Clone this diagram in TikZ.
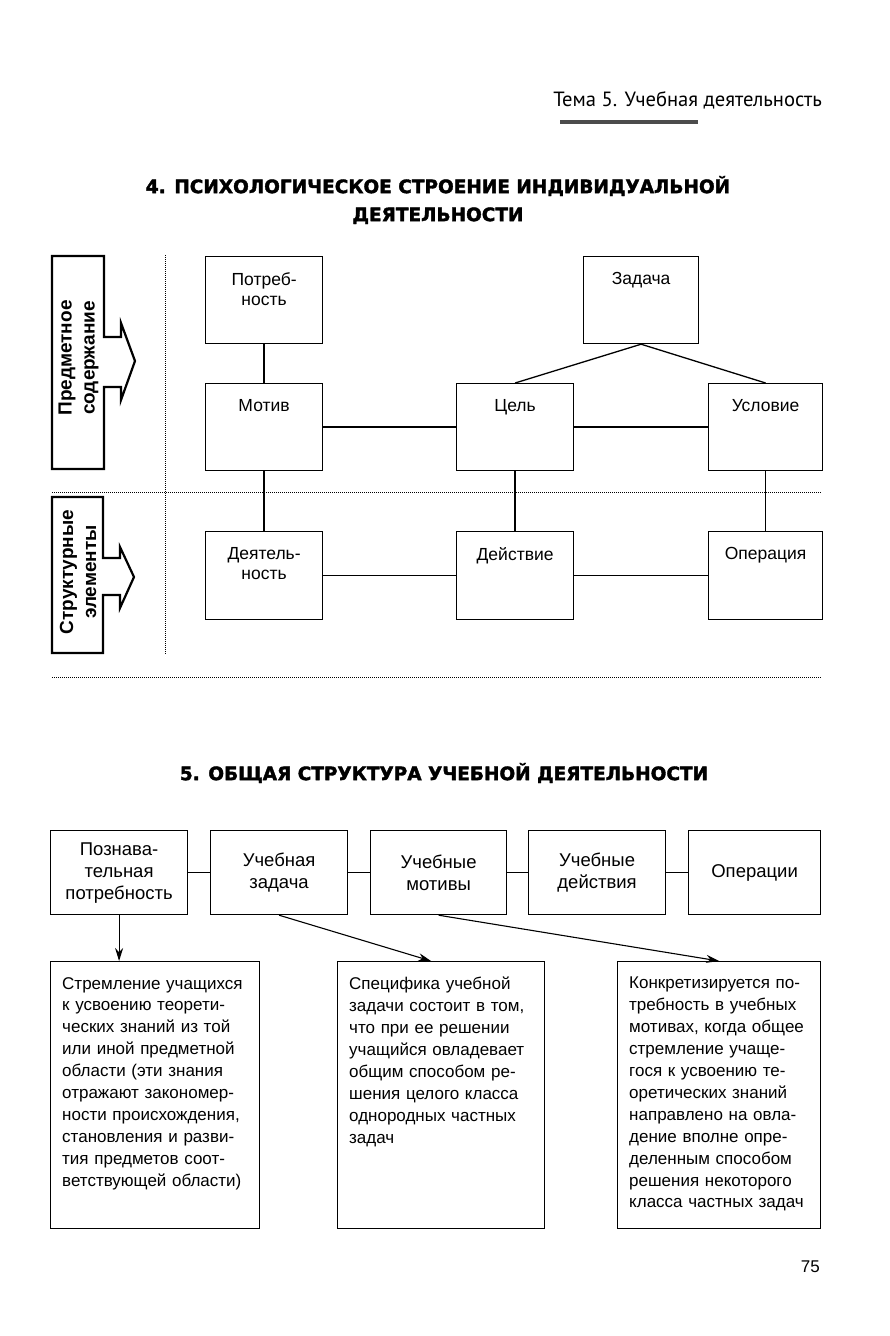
\documentclass[tikz,border=0pt]{standalone}
\usepackage{fontspec}
\setmainfont{Liberation Sans}
\newfontfamily\headfont{PT Sans}
\newfontfamily\titlefont{DejaVu Sans}[BoldFeatures={FakeBold=2}]
\usetikzlibrary{arrows.meta,positioning,calc}
\newcommand\cellfont{\fontsize{17.5}{20.5}\selectfont}
\newcommand\stepfont{\fontsize{18.5}{22}\selectfont}
\newcommand\notefont{\fontsize{17}{21.9}\selectfont}
\newcommand\sidefont{\fontsize{19}{23}\selectfont\bfseries}
\newcommand\jl[1]{\makebox[\hsize][s]{#1}}

\begin{document}
\begin{tikzpicture}[x=1pt,y=-1pt,>=Stealth]
\tikzset{unit/.style={draw,line width=1.2pt,minimum width=117pt,minimum height=87pt,anchor=north west,inner sep=0pt},
  celltext/.style={font=\cellfont,align=center,anchor=north,inner sep=0pt},
  stepbox/.style={draw,line width=1.2pt,minimum width=137pt,minimum height=84pt,anchor=north west,inner sep=0pt,font=\stepfont,align=center},
  notebox/.style={draw,line width=1.2pt,minimum height=267pt,anchor=north west,inner sep=0pt},
  notetext/.style={font={\notefont\parindent=0pt},align=left,anchor=north west,inner sep=0pt},
  link/.style={line width=1.3pt},
  arr/.style={->,line width=1.1pt,>={Stealth[length=13pt,width=8pt]}},
  side/.style={line width=2.2pt,line join=miter},
  sidetext/.style={font=\sidefont,align=center,rotate=90,inner sep=0pt},
  sep/.style={line width=0.8pt,dash pattern=on 1pt off 1pt},
  heading/.style={font={\titlefont\bfseries\fontsize{18.5}{28}\selectfont},align=center,inner sep=0pt}}
\useasboundingbox[fill=white] (0,0) rectangle (890,1336);

% running head
\node[font={\headfont\fontsize{20.6}{24}\selectfont},anchor=base east,inner sep=0pt] (runhead) at (822,106) {Тема 5. Учебная деятельность};
\draw[line width=3.5pt,black!70] (560,122) -- (698,122);

% 4. psychological structure
\node[heading] (title4) at (438,200) {4. ПСИХОЛОГИЧЕСКОЕ СТРОЕНИЕ ИНДИВИДУАЛЬНОЙ\\ДЕЯТЕЛЬНОСТИ};

\draw[side] (52,256) -- (104,256) -- (104,337) -- (121,337) -- (121,323) -- (135,361) -- (121,400) -- (121,387) -- (104,387) -- (104,469) -- (52,469) -- cycle;
\node[sidetext] (side1) at (78.5,358) {Предметное\\содержание};
\draw[side] (52,497) -- (103,497) -- (103,558) -- (120,558) -- (120,547) -- (134,577) -- (120,608) -- (120,595) -- (103,595) -- (103,653) -- (52,653) -- cycle;
\node[sidetext] (side2) at (78,572) {Структурные\\элементы};

\draw[sep] (165,255) -- (165,655);
\draw[sep] (52,492) -- (822,492);
\draw[sep] (52,677) -- (822,677);

\node[unit] (need) at (205,256) {};
\node[unit,minimum width=115pt] (task) at (583,256) {};
\node[unit] (motive) at (205,383) {};
\node[unit] (goal) at (456,383) {};
\node[unit,minimum width=114pt] (cond) at (708,383) {};
\node[unit,minimum height=88pt] (activity) at (205,531) {};
\node[unit,minimum height=88pt] (action) at (456,531) {};
\node[unit,minimum width=114pt,minimum height=88pt] (operation) at (708,531) {};

\node[celltext] (need-t) at ([yshift=-16pt]need.north) {Потреб-\\ность};
\node[celltext] (task-t) at ([yshift=-16pt]task.north) {Задача};
\node[celltext] (motive-t) at ([yshift=-16pt]motive.north) {Мотив};
\node[celltext] (goal-t) at ([yshift=-16pt]goal.north) {Цель};
\node[celltext] (cond-t) at ([yshift=-16pt]cond.north) {Условие};
\node[celltext] (activity-t) at ([yshift=-16pt]activity.north) {Деятель-\\ность};
\node[celltext] (action-t) at ([yshift=-16pt]action.north) {Действие};
\node[celltext] (operation-t) at ([yshift=-16pt]operation.north) {Операция};

\draw[link] (need) -- (motive);
\draw[link] (task.south) -- (goal.north);
\draw[link] (task.south) -- (cond.north);
\draw[link] (motive) -- (goal);
\draw[link] (goal) -- (cond);
\draw[link] (motive) -- (activity);
\draw[link] (goal) -- (action);
\draw[link] (cond) -- (operation);
\draw[link] (activity) -- (action);
\draw[link] (action) -- (operation);

% 5. general structure
\node[heading] (title5) at (444,773) {5. ОБЩАЯ СТРУКТУРА УЧЕБНОЙ ДЕЯТЕЛЬНОСТИ};

\node[stepbox] (need5) at (50,830) {Познава-\\тельная\\потребность};
\node[stepbox] (task5) at (210,830) {Учебная\\задача};
\node[stepbox,minimum width=136pt] (motives5) at (370,830) {Учебные\\мотивы};
\node[stepbox] (actions5) at (528,830) {Учебные\\действия};
\node[stepbox,minimum width=132pt] (ops5) at (688,830) {Операции};
\draw[link] (need5) -- (task5);
\draw[link] (task5) -- (motives5);
\draw[link] (motives5) -- (actions5);
\draw[link] (actions5) -- (ops5);

\node[notebox,minimum width=209pt] (noteA) at (50,961) {};
\node[notebox,minimum width=207pt] (noteB) at (337,961) {};
\node[notebox,minimum width=203pt] (noteC) at (617,961) {};

\draw[arr] (need5.south) -- (need5.south |- noteA.north);
\draw[arr] (task5.south) -- ([xshift=-10pt]noteB.north);
\draw[arr] (motives5.south) -- (noteC.north);

\node[notetext,text width=188pt] (noteA-t) at ([xshift=12pt,yshift=-16pt]noteA.north west) {%
\jl{Стремление учащихся}\\
\jl{к усвоению теорети-}\\
\jl{ческих знаний из той}\\
\jl{или иной предметной}\\
\jl{области (эти знания}\\
\jl{отражают закономер-}\\
\jl{ности происхождения,}\\
\jl{становления и разви-}\\
\jl{тия предметов соот-}\\
\jl{ветствующей области)}};
\node[notetext,text width=185pt] (noteB-t) at ([xshift=12pt,yshift=-16pt]noteB.north west) {%
\jl{Специфика учебной}\\
\jl{задачи состоит в том,}\\
\jl{что при ее решении}\\
\jl{учащийся овладевает}\\
\jl{общим способом ре-}\\
\jl{шения целого класса}\\
\jl{однородных частных}\\
задач};
\node[notetext,text width=181pt] (noteC-t) at ([xshift=12pt,yshift=-16pt]noteC.north west) {%
\jl{Конкретизируется по-}\\
\jl{требность в учебных}\\
\jl{мотивах, когда общее}\\
\jl{стремление учаще-}\\
\jl{гося к усвоению те-}\\
\jl{оретических знаний}\\
\jl{направлено на овла-}\\
\jl{дение вполне опре-}\\
\jl{деленным способом}\\
\jl{решения некоторого}\\
\jl{класса частных задач}};

\node[font=\fontsize{17}{20}\selectfont,anchor=base east,inner sep=0pt] (pageno) at (820,1272) {75};
\end{tikzpicture}
\end{document}
